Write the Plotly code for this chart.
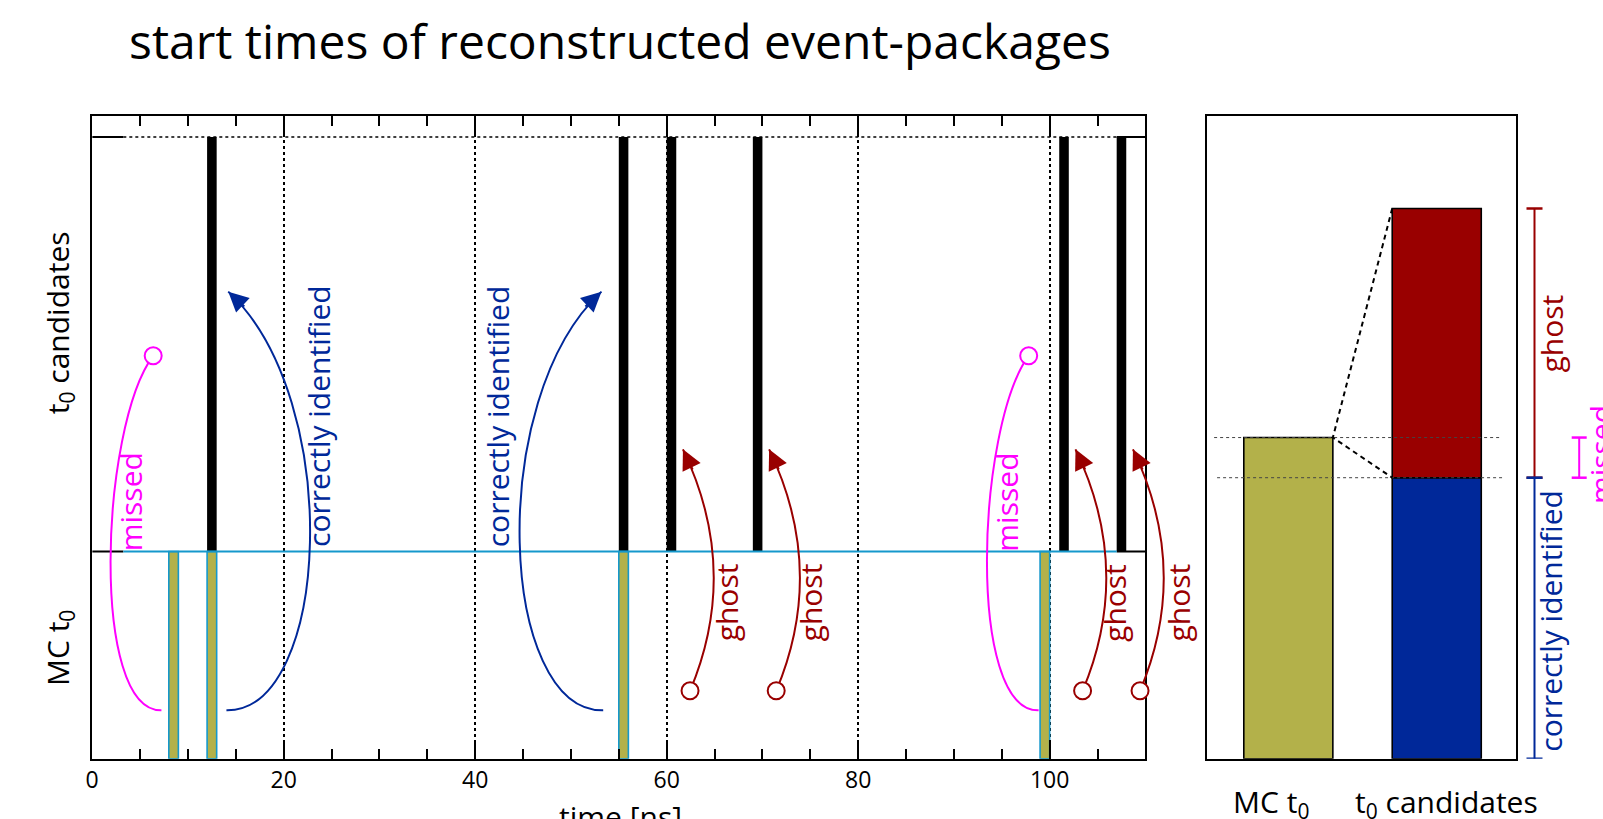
import math
import plotly.graph_objects as go

W, H = 1603, 819
FONT = "Open Sans, Noto Sans, sans-serif"

# ------------------------------------------------------------------ data
MC_T0_STARTS = [8, 12, 55, 99]                  # ns, bins holding a true (MC) t0
CANDIDATE_STARTS = [12, 55, 60, 69, 101, 107]   # ns, bins holding a reconstructed t0 candidate
BIN_WIDTH = 1.0
MC_LEVEL = 1.0
CANDIDATE_LEVEL = 2.0
X_TICKS = [0, 20, 40, 60, 80, 100]
X_TICK_LABELS = ["0", "20", "40", "60", "80", "100"]
STEP_RANGE = [3.25, 107.0]
X_RANGE = [0, 110]
Y_RANGE = [0, 3.1]

MISSED = [8, 99]
CORRECT = [12, 55]
GHOSTS = [60, 69, 101, 107]

SUMMARY_LABELS = ["MC t<sub>0</sub>", "t<sub>0</sub> candidates"]
SUMMARY_MC = 1.0
SUMMARY_CORRECT = 0.875
SUMMARY_GHOST = 0.838

# ------------------------------------------------------------------ colours
BLACK = "#000000"
OLIVE = "#b3b14a"
CYAN = "#1598cc"
MAGENTA = "#ff00ff"
BLUE = "#002899"
RED = "#990000"

# ------------------------------------------------------------------ geometry (pixels)
X0_PX, X1_PX = 92.2, 1145.4
YB_PX, YT_PX = 758.8, 116.3
R_X0_PX, R_X1_PX = 1206.7, 1516.0
R_X_RANGE = [-0.55, 1.534]
R_Y_RANGE = [0, 2.0]
PX_NS = (X1_PX - X0_PX) / (X_RANGE[1] - X_RANGE[0])
PX_U = (YB_PX - YT_PX) / (Y_RANGE[1] - Y_RANGE[0])


def xp(x):
    """main-panel time value -> paper fraction (so that marks are not clipped)"""
    return (X0_PX + (x - X_RANGE[0]) * PX_NS) / W


fig = go.Figure()

# candidate bars
fig.add_trace(go.Bar(
    x=[s + BIN_WIDTH / 2 for s in CANDIDATE_STARTS],
    y=[CANDIDATE_LEVEL] * len(CANDIDATE_STARTS),
    base=[MC_LEVEL] * len(CANDIDATE_STARTS),
    width=BIN_WIDTH, marker=dict(color=BLACK, line=dict(width=0)),
    xaxis="x", yaxis="y", hoverinfo="skip"))
# MC bars
fig.add_trace(go.Bar(
    x=[s + BIN_WIDTH / 2 for s in MC_T0_STARTS],
    y=[MC_LEVEL] * len(MC_T0_STARTS),
    width=BIN_WIDTH, marker=dict(color=OLIVE, line=dict(color=CYAN, width=1.6)),
    xaxis="x", yaxis="y", hoverinfo="skip"))

top = MC_LEVEL + CANDIDATE_LEVEL
fig.add_trace(go.Scatter(
    x=[X_RANGE[0], STEP_RANGE[0], None, STEP_RANGE[1], X_RANGE[1], None,
       X_RANGE[0], STEP_RANGE[0], None, STEP_RANGE[1], X_RANGE[1]],
    y=[MC_LEVEL, MC_LEVEL, None, MC_LEVEL, MC_LEVEL, None,
       top, top, None, top, top],
    mode="lines", line=dict(color=BLACK, width=2), xaxis="x", yaxis="y", hoverinfo="skip"))
fig.add_trace(go.Scatter(
    x=STEP_RANGE, y=[MC_LEVEL, MC_LEVEL], mode="lines",
    line=dict(color=CYAN, width=2), xaxis="x", yaxis="y", hoverinfo="skip"))
fig.add_trace(go.Scatter(
    x=STEP_RANGE, y=[top, top], mode="lines",
    line=dict(color=BLACK, width=1.6, dash="dot"), xaxis="x", yaxis="y", hoverinfo="skip"))

# summary panel
fig.add_trace(go.Bar(x=[0], y=[SUMMARY_MC], width=0.6,
                     marker=dict(color=OLIVE, line=dict(color=BLACK, width=1.6)),
                     xaxis="x2", yaxis="y2", hoverinfo="skip"))
fig.add_trace(go.Bar(x=[1], y=[SUMMARY_CORRECT], width=0.6,
                     marker=dict(color=BLUE, line=dict(color=BLACK, width=1.6)),
                     xaxis="x2", yaxis="y2", hoverinfo="skip"))
fig.add_trace(go.Bar(x=[1], y=[SUMMARY_GHOST], base=[SUMMARY_CORRECT], width=0.6,
                     marker=dict(color=RED, line=dict(color=BLACK, width=1.6)),
                     xaxis="x2", yaxis="y2", hoverinfo="skip"))
fig.add_trace(go.Scatter(x=[-0.5, 1.44, None, -0.48, 1.44],
                         y=[SUMMARY_MC, SUMMARY_MC, None, SUMMARY_CORRECT, SUMMARY_CORRECT],
                         mode="lines", line=dict(color="#444444", width=1, dash="dot"),
                         xaxis="x2", yaxis="y2", hoverinfo="skip"))
total = SUMMARY_CORRECT + SUMMARY_GHOST
fig.add_trace(go.Scatter(x=[0.7, 0.3, 0.7], y=[total, SUMMARY_MC, SUMMARY_CORRECT],
                         mode="lines", line=dict(color=BLACK, width=2, dash="5px,4px"),
                         xaxis="x2", yaxis="y2", hoverinfo="skip"))

shapes = []
annotations = []
circles = []


def arrow_head(tip, ctrl, color):
    dx = (tip[0] - ctrl[0]) * PX_NS
    dy = -(tip[1] - ctrl[1]) * PX_U
    n = math.hypot(dx, dy)
    L = 24
    annotations.append(dict(x=xp(tip[0]), y=tip[1], xref="paper", yref="y", text="",
                            showarrow=True, arrowhead=2, arrowsize=2.0, arrowwidth=2,
                            arrowcolor=color, ax=-dx / n * L, ay=-dy / n * L, standoff=0))


def cubic(p0, c1, c2, p3, color):
    shapes.append(dict(type="path", xref="paper", yref="y",
                       path=(f"M{xp(p0[0])},{p0[1]} C{xp(c1[0])},{c1[1]} "
                             f"{xp(c2[0])},{c2[1]} {xp(p3[0])},{p3[1]}"),
                       line=dict(color=color, width=2)))


def quad(p0, c, p2, color):
    shapes.append(dict(type="path", xref="paper", yref="y",
                       path=f"M{xp(p0[0])},{p0[1]} Q{xp(c[0])},{c[1]} {xp(p2[0])},{p2[1]}",
                       line=dict(color=color, width=2)))


def circle(p, color):
    r = 8.5
    circles.append(dict(type="circle", xref="paper", yref="y", xsizemode="pixel", ysizemode="pixel",
                        xanchor=xp(p[0]), yanchor=p[1], x0=-r, x1=r, y0=-r, y1=r,
                        fillcolor="white", line=dict(color=color, width=2)))


def vtext(x, y, s, color, xref="paper", yref="y", size=30):
    annotations.append(dict(x=x, y=y, xref=xref, yref=yref, text=s, showarrow=False,
                            textangle=-90, xanchor="center", yanchor="middle",
                            font=dict(family=FONT, size=size, color=color)))


# missed (magenta)
missed_geo = {8: [(7.23, 0.234), (-0.23, 0.226), (0.81, 1.596), (6.37, 1.945), (4.0, 1.24)],
              99: [(98.85, 0.234), (91.30, 0.226), (92.35, 1.596), (97.81, 1.945), (95.53, 1.24)]}
for t in MISSED:
    p0, c1, c2, p3, tx = missed_geo[t]
    cubic(p0, c1, c2, p3, MAGENTA)
    circle(p3, MAGENTA)
    vtext(xp(tx[0]), tx[1], "missed", MAGENTA)

# correctly identified (blue)
correct_geo = {12: [(14.02, 0.234), (24.84, 0.226), (26.40, 1.731), (14.21, 2.254), (23.64, 1.652)],
               55: [(53.37, 0.234), (42.55, 0.226), (40.99, 1.731), (53.19, 2.254), (42.37, 1.652)]}
for t in CORRECT:
    p0, c1, c2, p3, tx = correct_geo[t]
    cubic(p0, c1, c2, p3, BLUE)
    arrow_head(p3, c2, BLUE)
    vtext(xp(tx[0]), tx[1], "correctly identified", BLUE)

# ghosts (red)
ghost_text_dx = [6.28, 6.06, 5.76, 6.5]
for t, tdx in zip(GHOSTS, ghost_text_dx):
    p0 = (t + 2.44, 0.328)
    c = (t + 7.74, 0.911)
    p2 = (t + 1.70, 1.493)
    quad(p0, c, p2, RED)
    arrow_head(p2, c, RED)
    circle(p0, RED)
    vtext(xp(t + tdx), 0.754, "ghost", RED)

shapes += circles


def bracket(xpx, half, y0, y1, color):
    xq = xpx / W
    hq = half / W
    shapes.append(dict(type="line", xref="paper", yref="y2", x0=xq, x1=xq, y0=y0, y1=y1,
                       line=dict(color=color, width=2)))
    for yy in (y0, y1):
        shapes.append(dict(type="line", xref="paper", yref="y2", x0=xq - hq, x1=xq + hq,
                           y0=yy, y1=yy, line=dict(color=color, width=2.5)))


bracket(1534.5, 8, SUMMARY_CORRECT, total, RED)
bracket(1534.5, 8, 0, SUMMARY_CORRECT, BLUE)
bracket(1579.2, 7.5, SUMMARY_CORRECT, SUMMARY_MC, MAGENTA)

vtext(1551.0 / W, 1.324, "ghost", RED, yref="y2")
vtext(1551.0 / W, 0.43, "correctly identified", BLUE, yref="y2")
vtext(1600.5 / W, 0.947, "missed", MAGENTA, yref="y2")

vtext(59.0 / W, 1 - 323.2 / H, "t<sub>0</sub> candidates", BLACK, yref="paper")
vtext(59.0 / W, 1 - 648 / H, "MC t<sub>0</sub>", BLACK, yref="paper")

for lbl, xpx in zip(SUMMARY_LABELS, [1271, 1446]):
    annotations.append(dict(x=xpx / W, y=1 - 803.4 / H, xref="paper", yref="paper", text=lbl,
                            showarrow=False, xanchor="center", yanchor="middle",
                            font=dict(family=FONT, size=30, color=BLACK)))

annotations.append(dict(x=620 / W, y=1 - 816.5 / H, xref="paper", yref="paper", text="time [ns]",
                        showarrow=False, xanchor="center", yanchor="middle",
                        font=dict(family=FONT, size=30, color=BLACK)))
annotations.append(dict(x=127 / W, y=1 - 40.3 / H, xref="paper", yref="paper",
                        text="start times of reconstructed event-packages",
                        showarrow=False, xanchor="left", yanchor="middle",
                        font=dict(family=FONT, size=48, color=BLACK)))

ydom = [1 - YB_PX / H, 1 - YT_PX / H]
fig.update_layout(
    width=W, height=H, autosize=False,
    margin=dict(l=0, r=0, t=0, b=0, pad=0, autoexpand=False),
    paper_bgcolor="white", plot_bgcolor="white",
    showlegend=False, barmode="overlay",
    font=dict(family=FONT, color=BLACK),
    xaxis=dict(domain=[X0_PX / W, X1_PX / W], range=X_RANGE, anchor="y", automargin=False,
               showline=True, linecolor=BLACK, linewidth=2, mirror="allticks",
               ticks="inside", ticklen=19, tickwidth=1.6, tickcolor=BLACK,
               tickvals=X_TICKS, ticktext=X_TICK_LABELS,
               tickfont=dict(family=FONT, size=23, color=BLACK),
               showgrid=True, gridcolor=BLACK, griddash="dot", gridwidth=1.6,
               minor=dict(dtick=5, tick0=0, ticks="inside", ticklen=9.5, tickwidth=1.6,
                          tickcolor=BLACK, showgrid=False),
               zeroline=False),
    yaxis=dict(domain=ydom, range=Y_RANGE, anchor="x", automargin=False, showline=True,
               linecolor=BLACK, linewidth=2, mirror=True, ticks="", showticklabels=False,
               showgrid=False, zeroline=False),
    xaxis2=dict(domain=[R_X0_PX / W, R_X1_PX / W], range=R_X_RANGE, anchor="y2", automargin=False,
                showline=True, linecolor=BLACK, linewidth=2, mirror=True, ticks="",
                showticklabels=False, showgrid=False, zeroline=False),
    yaxis2=dict(domain=ydom, range=R_Y_RANGE, anchor="x2", automargin=False, showline=True,
                linecolor=BLACK, linewidth=2, mirror=True, ticks="", showticklabels=False,
                showgrid=False, zeroline=False),
    shapes=shapes, annotations=annotations,
)

fig.write_html("out.html")
